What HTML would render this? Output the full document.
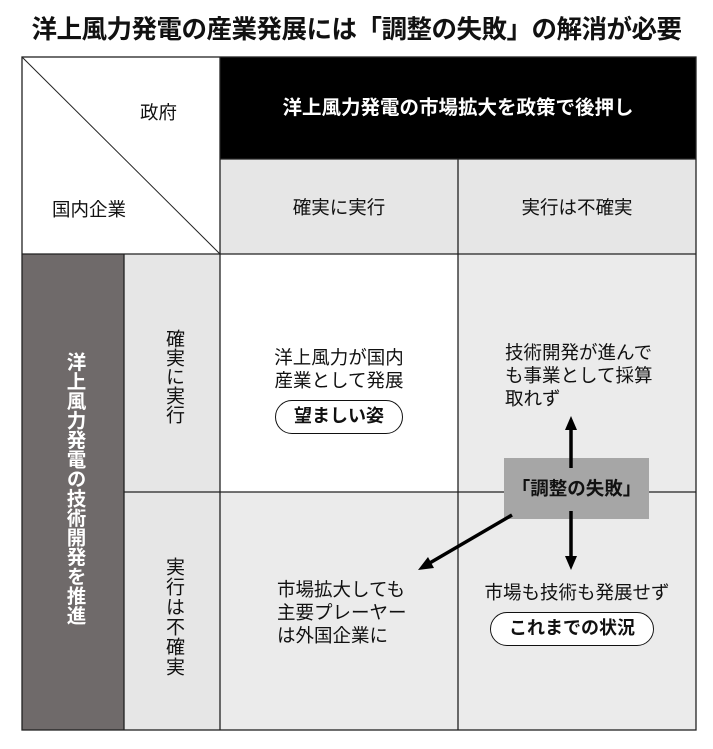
<!DOCTYPE html>
<html><head><meta charset="utf-8"><style>
body{margin:0;width:713px;height:749px;background:#fff;overflow:hidden;font-family:"Liberation Sans","Noto Sans CJK JP",sans-serif;color:#111}
.a{position:absolute}
.t{position:absolute;white-space:nowrap;font-size:18.5px;line-height:23px}
.v{writing-mode:vertical-rl;white-space:nowrap;position:absolute}
.pill{position:absolute;border:1.5px solid #111;border-radius:18px;background:#fff;font-weight:bold;font-size:18px;text-align:center;box-sizing:border-box}
</style></head><body>
<div class="t" style="left:0;width:713px;top:14px;text-align:center;font-size:25.5px;font-weight:bold;line-height:32px;letter-spacing:-0.5px">洋上風力発電の産業発展には「調整の失敗」の解消が必要</div>
<svg class="a" style="left:0;top:0" width="713" height="749">
<rect x="220" y="57" width="476" height="102" fill="#000"/>
<rect x="220" y="159" width="476" height="95" fill="#e6e6e6"/>
<rect x="22" y="254" width="102" height="476" fill="#6f6a6a"/>
<rect x="124" y="254" width="96" height="476" fill="#e6e6e6"/>
<rect x="458" y="254" width="238" height="476" fill="#ebebeb"/>
<rect x="220" y="492" width="238" height="238" fill="#ebebeb"/>
<g stroke="#222" stroke-width="1.3" fill="none">
<rect x="22" y="57" width="674" height="673"/>
<line x1="22" y1="57" x2="220" y2="254" stroke-width="1"/>
<line x1="220" y1="57" x2="220" y2="730"/>
<line x1="458" y1="159" x2="458" y2="730"/>
<line x1="220" y1="159" x2="696" y2="159"/>
<line x1="22" y1="254" x2="696" y2="254"/>
<line x1="124" y1="492" x2="696" y2="492"/>
<line x1="124" y1="254" x2="124" y2="730"/>
</g>
<rect x="504" y="458" width="145" height="61" fill="#a6a6a6"/>
<g stroke="#000" stroke-width="3.5" fill="#000">
<line x1="571" y1="468" x2="571" y2="428"/>
<polygon points="571,416 565,430 577,430" stroke="none"/>
<line x1="571" y1="511" x2="571" y2="558"/>
<polygon points="571,570 565,556 577,556" stroke="none"/>
<line x1="512" y1="515" x2="428" y2="564"/>
<polygon points="418,570 428,557 434,568" stroke="none"/>
</g>
</svg>
<div class="t" style="left:140px;top:101px">政府</div>
<div class="t" style="left:52px;top:198px">国内企業</div>
<div class="t" style="left:220px;width:476px;top:97px;text-align:center;color:#fff;font-weight:bold;font-size:19.5px">洋上風力発電の市場拡大を政策で後押し</div>
<div class="t" style="left:220px;width:238px;top:196px;text-align:center">確実に実行</div>
<div class="t" style="left:458px;width:238px;top:196px;text-align:center">実行は不確実</div>
<div class="v" style="left:60px;top:352px;color:#fff;font-weight:bold;font-size:19.5px;letter-spacing:0px">洋上風力発電の技術開発を推進</div>
<div class="v" style="left:160px;top:329px;font-size:19px">確実に実行</div>
<div class="v" style="left:160px;top:557px;font-size:19px;letter-spacing:1px">実行は不確実</div>
<div class="t" style="left:220px;width:238px;top:346px;text-align:center">洋上風力が国内<br>産業として発展</div>
<div class="pill" style="left:275px;top:400px;width:128px;height:34px;line-height:31px">望ましい姿</div>
<div class="t" style="left:505px;top:341px">技術開発が進んで<br>も事業として採算<br>取れず</div>
<div class="t" style="left:504px;width:145px;top:477px;text-align:center;font-weight:bold;font-size:18.5px">「調整の失敗」</div>
<div class="t" style="left:277px;top:578px">市場拡大しても<br>主要プレーヤー<br>は外国企業に</div>
<div class="t" style="left:458px;width:238px;top:581px;text-align:center">市場も技術も発展せず</div>
<div class="pill" style="left:490px;top:612px;width:164px;height:34px;line-height:31px">これまでの状況</div>
</body></html>
